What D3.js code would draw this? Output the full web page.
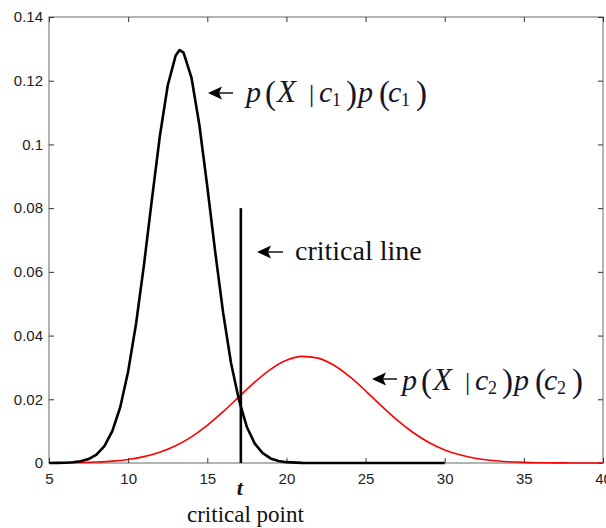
<!DOCTYPE html>
<html>
<head>
<meta charset="utf-8">
<script src="https://cdn.jsdelivr.net/npm/d3@7"></script>
<style>
  body { margin: 0; background: #fff; }
  svg { display: block; }
</style>
</head>
<body>
<svg width="606" height="528"></svg>
<script>
// black curve: p(X|c1)p(c1)
var blackX = [5, 5.5, 6, 6.5, 7, 7.5, 8, 8.5, 9, 9.5, 10, 10.5, 11, 11.5, 12, 12.5, 13, 13.25, 13.5,
              14, 14.5, 15, 15.5, 16, 16.5, 17, 17.5, 18, 18.5, 19, 19.5, 20, 21, 22, 23, 24, 25, 26, 27, 28, 29, 30];
var blackY = [0.00001, 0.00003, 0.00008, 0.00022, 0.00053, 0.00123, 0.00264, 0.00533, 0.0100, 0.0175,
              0.0287, 0.0437, 0.0622, 0.0827, 0.1025, 0.1185, 0.1279, 0.1296, 0.1288,
              0.1210, 0.1061, 0.0868, 0.0663, 0.0472, 0.0314, 0.0198, 0.0113, 0.0061, 0.0031, 0.00144,
              0.00063, 0.00026, 0.00003, 0, 0, 0, 0, 0, 0, 0, 0, 0];

// red curve: p(X|c2)p(c2)
var redX = [5, 6, 7, 8, 9, 10, 11, 12, 13, 14, 15, 16, 17, 18, 19, 20, 21, 22, 23, 24, 25, 26,
            27, 28, 29, 30, 31, 32, 33, 34, 35, 36, 37, 38, 39, 40];
var redY = [0.00003, 0.00006, 0.00014, 0.0003, 0.00059, 0.00112, 0.0020, 0.00338, 0.00542, 0.00822,
            0.01182, 0.0161, 0.02077, 0.02538, 0.02938, 0.03222, 0.03346, 0.03292, 0.03068, 0.02709,
            0.02266, 0.01794, 0.01346, 0.00957, 0.00644, 0.0041, 0.00248, 0.00142, 0.00077, 0.0004,
            0.00019, 0.00009, 0.00004, 0.00002, 0.00001, 0];

var criticalX = 17.12;
var criticalTop = 0.08;

var xTicks = [5, 10, 15, 20, 25, 30, 35, 40];
var yTicks = [0, 0.02, 0.04, 0.06, 0.08, 0.1, 0.12, 0.14];

var svg = d3.select("svg");
var plotL = 49, plotR = 603, plotT = 17, plotB = 463;

var x = d3.scaleLinear().domain([5, 40]).range([plotL, plotR]);
var y = d3.scaleLinear().domain([0, 0.14]).range([plotB, plotT]);

// frame
svg.append("rect")
    .attr("x", plotL).attr("y", plotT)
    .attr("width", plotR - plotL).attr("height", plotB - plotT)
    .attr("fill", "none").attr("stroke", "#808080").attr("stroke-width", 1.2);

function styleAxis(g) {
  g.select(".domain").remove();
  g.selectAll(".tick line").attr("stroke", "#333");
  g.attr("font-family", "'Liberation Sans', Arial, sans-serif").attr("font-size", 15);
  g.selectAll(".tick text").attr("fill", "#222");
}

svg.append("g")
    .attr("transform", "translate(0," + plotB + ")")
    .call(d3.axisBottom(x).tickValues(xTicks).tickSizeInner(-5).tickSizeOuter(0).tickPadding(10))
    .call(styleAxis);
svg.append("g")
    .attr("transform", "translate(0," + plotT + ")")
    .call(d3.axisTop(x).tickValues(xTicks).tickSizeInner(-5).tickSizeOuter(0).tickFormat(""))
    .call(styleAxis);
svg.append("g")
    .attr("transform", "translate(" + plotL + ",0)")
    .call(d3.axisLeft(y).tickValues(yTicks).tickSizeInner(-5).tickSizeOuter(0).tickPadding(6)
      .tickFormat(function(d) { return String(+d.toFixed(2)); }))
    .call(styleAxis);
svg.append("g")
    .attr("transform", "translate(" + plotR + ",0)")
    .call(d3.axisRight(y).tickValues(yTicks).tickSizeInner(-5).tickSizeOuter(0).tickFormat(""))
    .call(styleAxis);

var line = d3.line()
    .x(function(d) { return x(d[0]); })
    .y(function(d) { return y(d[1]); });

svg.append("path")
    .datum(d3.zip(redX, redY))
    .attr("d", line.curve(d3.curveMonotoneX))
    .attr("fill", "none").attr("stroke", "#ff0000").attr("stroke-width", 1.6);

svg.append("path")
    .datum(d3.zip(blackX, blackY))
    .attr("d", line.curve(d3.curveLinear))
    .attr("fill", "none").attr("stroke", "#000").attr("stroke-width", 2.6)
    .attr("stroke-linejoin", "round");

// critical line
svg.append("line")
    .attr("x1", x(criticalX)).attr("x2", x(criticalX))
    .attr("y1", y(0)).attr("y2", y(criticalTop))
    .attr("stroke", "#000").attr("stroke-width", 2.6);

// annotations
function arrow(tipX, tipY, len) {
  svg.append("line")
      .attr("x1", tipX + 8).attr("x2", tipX + len)
      .attr("y1", tipY).attr("y2", tipY)
      .attr("stroke", "#000").attr("stroke-width", 1.4);
  svg.append("path")
      .attr("d", "M" + tipX + "," + tipY + "L" + (tipX + 14) + "," + (tipY - 6.5) +
                 "L" + (tipX + 11) + "," + tipY + "L" + (tipX + 14) + "," + (tipY + 6.5) + "Z")
      .attr("fill", "#000");
}

var glyphs = [
  ["p", 0, "it"], ["(", 19, "paren"], ["X", 31, "it"], ["|", 63, "bar"], ["c", 73, "it"],
  ["sub", 86, "sub"], [")", 100, "paren"], ["p", 112, "it"], ["(", 133, "paren"],
  ["c", 142, "it"], ["sub", 155, "sub"], [")", 170, "paren"]
];

function mathLabel(x0, base, sub) {
  var g = svg.append("g").attr("fill", "#15152a").attr("font-family", "'Liberation Serif', 'Times New Roman', serif");
  glyphs.forEach(function(gl) {
    var t = g.append("text").attr("x", x0 + gl[1]).attr("y", base);
    if (gl[2] === "it") t.attr("font-style", "italic").attr("font-size", gl[0] === "X" ? 31 : 30).text(gl[0]);
    else if (gl[2] === "paren") t.attr("font-size", 33).attr("y", base + 2).text(gl[0]);
    else if (gl[2] === "bar") t.attr("font-size", 26).text("|");
    else t.attr("font-size", 18).attr("y", base + 4).text(sub);
  });
}

arrow(208, 93, 25);
mathLabel(246, 102, "1");

arrow(372, 379, 25);
mathLabel(402, 390, "2");

arrow(257, 252, 26);
svg.append("text")
    .attr("x", 295).attr("y", 260)
    .attr("font-family", "'Liberation Serif', 'Times New Roman', serif")
    .attr("font-size", 28).attr("fill", "#111")
    .text("critical line");

svg.append("text")
    .attr("x", x(criticalX) - 1).attr("y", 495)
    .attr("text-anchor", "middle")
    .attr("font-family", "'Liberation Serif', 'Times New Roman', serif")
    .attr("font-style", "italic").attr("font-weight", "bold")
    .attr("font-size", 22).attr("fill", "#111")
    .text("t");

svg.append("text")
    .attr("x", 187).attr("y", 522)
    .attr("font-family", "'Liberation Serif', 'Times New Roman', serif")
    .attr("font-size", 23).attr("fill", "#111")
    .text("critical point");
</script>
</body>
</html>
